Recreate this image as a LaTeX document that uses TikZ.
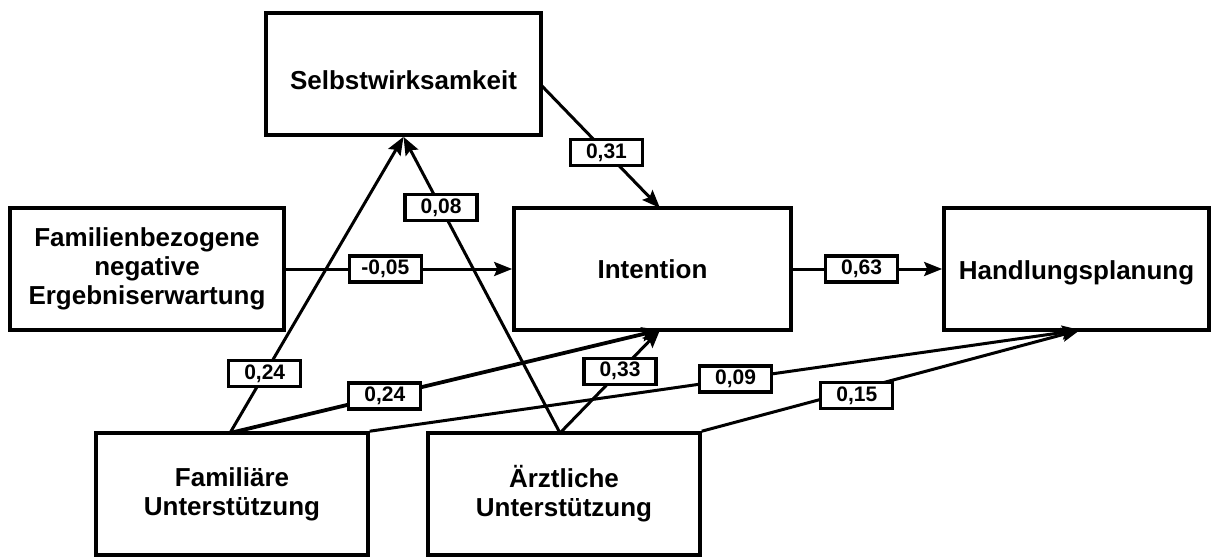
\documentclass[tikz,border=0pt]{standalone}
\usepackage{fontspec}
\setmainfont{Liberation Sans}
\usetikzlibrary{arrows.meta}
\begin{document}
\begin{tikzpicture}[x=0.5pt,y=-0.5pt,
  box/.style={draw,line width=1.8pt,minimum width=#1*0.5pt,minimum height=61pt,inner sep=0pt,align=center,font=\fontsize{13}{14.5}\selectfont\bfseries},
  lbl/.style={draw,fill=white,line width=1.6pt,minimum width=36pt,minimum height=13pt,inner sep=0pt,font=\fontsize{10.5}{11}\selectfont\bfseries},
  conn/.style={line width=1.5pt},
  arr/.style={conn,-{Stealth[length=9pt,width=7pt,inset=1.5pt]}}]
\useasboundingbox (0,0) rectangle (1215,557);
\node[box=275,text height=16pt,text depth=1pt] (S) at (403.5,74) {Selbstwirksamkeit};
\node[box=274] (F) at (147,269) {Familienbezogene\\negative\\Ergebniserwartung};
\node[box=277] (I) at (652.5,269) {Intention};
\node[box=265,text height=12pt,text depth=1.3pt] (H) at (1076.5,269) {Handlungsplanung};
\node[box=272] (FU) at (232,494) {Familiäre\\Unterstützung};
\node[box=272] (AU) at (564,494) {Ärztliche\\Unterstützung};
\coordinate (Sout) at (541,85);
\coordinate (Itop) at (660,208);
\coordinate (Ibot) at (660,330);
\coordinate (Hbot) at (1080,330);
\coordinate (FUtop) at (230,433);
\coordinate (AUtop) at (560,433);
\draw[arr] (Sout) -- node[lbl,pos=0.55] (l31) {0,31} (Itop);
\draw[arr] (F.east) -- node[lbl,pos=0.44] (l05) {-0,05} (I.west);
\draw[arr] (I.east) -- node[lbl,pos=0.46] (l63) {0,63} (H.west);
\draw[arr] (FUtop) -- node[lbl,pos=0.2] (l24a) {0,24} (S.south);
\draw[arr] (AUtop) -- node[lbl,pos=0.76] (l08) {0,08} (S.south);
\draw[arr,line width=1.9pt] (FUtop) -- node[lbl,pos=0.36] (l24b) {0,24} (Ibot);
\draw[arr] (AUtop) -- node[lbl,pos=0.6] (l33) {0,33} (Ibot);
\draw[arr] (FU.north east) -- node[lbl,pos=0.515] (l09) {0,09} (Hbot);
\draw[arr] (AU.north east) -- node[lbl,pos=0.41,yshift=-3pt] (l15) {0,15} (Hbot);
\end{tikzpicture}
\end{document}
